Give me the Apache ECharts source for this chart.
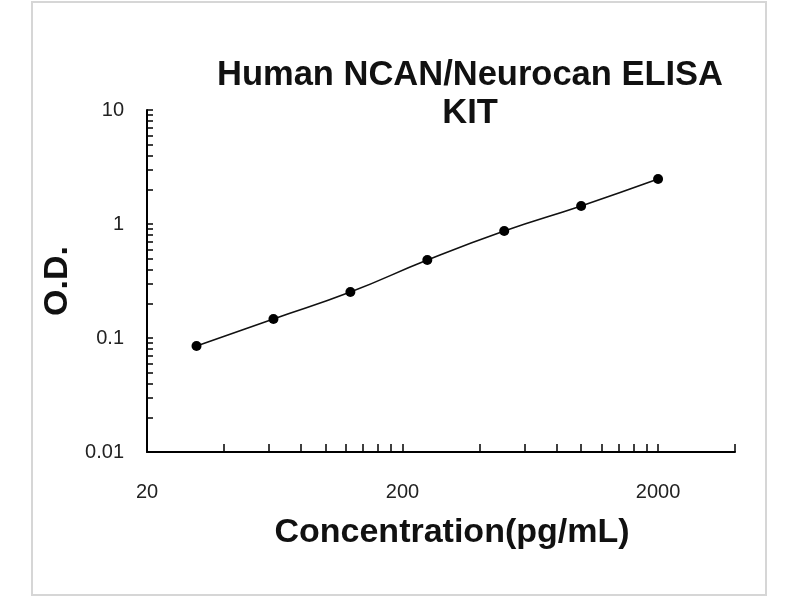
<!DOCTYPE html>
<html>
<head>
<meta charset="utf-8">
<script src="https://cdn.jsdelivr.net/npm/echarts@6/dist/echarts.min.js"></script>
<style>
html,body{margin:0;padding:0;background:#fff;}
#frame{position:absolute;left:31px;top:1px;width:736px;height:595px;border:2px solid #d6d6d6;box-sizing:border-box;}
#chart{position:absolute;left:0;top:0;width:800px;height:600px;}
</style>
</head>
<body>
<div id="frame"></div>
<div id="chart"></div>
<script>
// Data
const concentration = [31.25, 62.5, 125, 250, 500, 1000, 2000];
const od = [0.085, 0.147, 0.253, 0.483, 0.868, 1.44, 2.48];
const xLabelValues = [20, 200, 2000];
const xTickValues = [40, 60, 80, 100, 120, 140, 160, 180, 200, 400, 600, 800, 1000, 1200, 1400, 1600, 1800, 2000, 4000];
const yLabelValues = [0.01, 0.1, 1, 10];
const yTickValues = [0.02, 0.03, 0.04, 0.05, 0.06, 0.07, 0.08, 0.09, 0.1, 0.2, 0.3, 0.4, 0.5, 0.6, 0.7, 0.8, 0.9, 1, 2, 3, 4, 5, 6, 7, 8, 9, 10];

const chart = echarts.init(document.getElementById('chart'), null, {renderer: 'canvas'});
const points = concentration.map((c, i) => [c, od[i]]);
const labelFont = {fontFamily: 'Liberation Sans', fontSize: 20, color: '#222'};
const nameFont = {fontFamily: 'Liberation Sans', fontSize: 34, fontWeight: 'bold', color: '#111'};

chart.setOption({
  animation: false,
  backgroundColor: 'transparent',
  title: {
    text: 'Human NCAN/Neurocan ELISA\nKIT',
    left: 465, top: 51, textAlign: 'center',
    textStyle: {fontFamily: 'Liberation Sans', fontSize: 34.5, fontWeight: 'bold', color: '#111', lineHeight: 38}
  },
  grid: {left: 147, right: 65, top: 110, bottom: 148, containLabel: false},
  xAxis: {
    type: 'log', logBase: 10, min: 20, max: 4000,
    name: 'Concentration(pg/mL)', nameLocation: 'middle', nameGap: 64,
    nameTextStyle: Object.assign({padding: [0, 0, 0, 22]}, nameFont),
    axisLine: {lineStyle: {color: '#000', width: 2}},
    axisTick: {show: true, inside: true, length: 8, lineStyle: {color: '#000', width: 1.5}, customValues: xTickValues},
    axisLabel: Object.assign({margin: 30, customValues: xLabelValues, formatter: v => String(v)}, labelFont),
    splitLine: {show: false}, minorTick: {show: false}
  },
  yAxis: {
    type: 'log', logBase: 10, min: 0.01, max: 10,
    name: 'O.D.', nameLocation: 'middle', nameGap: 70, nameRotate: 90,
    nameTextStyle: nameFont,
    axisLine: {lineStyle: {color: '#000', width: 2}},
    axisTick: {show: true, inside: true, length: 6, lineStyle: {color: '#000', width: 1.5}, customValues: yTickValues},
    axisLabel: Object.assign({margin: 23, customValues: yLabelValues, formatter: v => String(v)}, labelFont),
    splitLine: {show: false}, minorTick: {show: false}
  },
  series: [{
    type: 'line', data: points, smooth: true,
    symbol: 'circle', symbolSize: 10,
    itemStyle: {color: '#000'},
    lineStyle: {color: '#111', width: 1.6}
  }]
});
</script>
</body>
</html>
